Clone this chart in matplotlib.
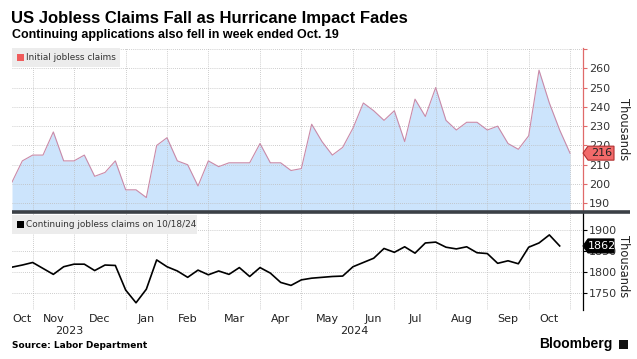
import matplotlib
matplotlib.use('Agg')
import matplotlib.pyplot as plt
import matplotlib.dates as mdates
import matplotlib.transforms as mtransforms
from matplotlib.patches import Rectangle, Polygon
from matplotlib.lines import Line2D
import pandas as pd

# ---------------- data ----------------
week_dates = pd.date_range('2023-10-13', periods=55, freq='7D')  # weekly (Friday-dated)

initial_claims = [201, 212, 215, 215, 227, 212, 212, 215, 204, 206,
                  212, 197, 197, 193, 220, 224, 212, 210, 199, 212,
                  209, 211, 211, 211, 221, 211, 211, 207, 208, 231,
                  222, 215, 219, 229, 242, 238, 233, 238, 222, 244,
                  235, 250, 233, 228, 232, 232, 228, 230, 221, 218,
                  225, 259, 242, 228, 216]

continuing_claims = [1812, 1817, 1823, 1809, 1795, 1813, 1819, 1819, 1804, 1817,
                     1816, 1758, 1728, 1760, 1829, 1813, 1803, 1788, 1805, 1794,
                     1803, 1795, 1811, 1790, 1811, 1798, 1776, 1769, 1782, 1786,
                     1788, 1790, 1791, 1813, 1823, 1833, 1856, 1847, 1860, 1845,
                     1869, 1871, 1859, 1855, 1860, 1846, 1844, 1821, 1827, 1820,
                     1859, 1869, 1888, 1862]

initial_ticks = [190, 200, 210, 220, 230, 240, 250, 260, 270]
continuing_ticks = [1750, 1800, 1850, 1900]

title = 'US Jobless Claims Fall as Hurricane Impact Fades'
subtitle = 'Continuing applications also fell in week ended Oct. 19'
initial_label = 'Initial jobless claims'
continuing_label = 'Continuing jobless claims on 10/18/24'
source = 'Source: Labor Department'

# ---------------- layout helpers ----------------
W, H = 637, 359
fig = plt.figure(figsize=(W / 100, H / 100), dpi=100)
fig.patch.set_facecolor('white')

def fx(px):
    return px / W

def fy(py):
    return 1 - py / H

L, R = 12, 583
ax1 = fig.add_axes([fx(L), fy(212), fx(R) - fx(L), fy(48) - fy(212)])
ax2 = fig.add_axes([fx(L), fy(310), fx(R) - fx(L), fy(212) - fy(310)])

x0 = week_dates[0]
x1 = week_dates[-1] + pd.Timedelta(days=8.8)

grid_kw = dict(color='#bdbdbd', lw=0.6, ls=(0, (1, 1.5)))

# month boundaries: last weekly point of each month
s = pd.Series(week_dates, index=week_dates)
month_ends = list(s.groupby([week_dates.year, week_dates.month]).max())
bounds = [week_dates[0]] + month_ends
centers = [bounds[i] + (bounds[i + 1] - bounds[i]) / 2 for i in range(len(bounds) - 1)]
labels = [d.strftime('%b') for d in month_ends]

# ---------------- top panel ----------------
y1lo, y1hi = 185.5, 270.5
ax1.fill_between(week_dates, initial_claims, y1lo, color='#cce4fc', lw=0, zorder=1)
ax1.set_xlim(x0, x1)
ax1.set_ylim(y1lo, y1hi)
ax1.yaxis.tick_right()
ax1.set_yticks(initial_ticks)
ax1.set_yticklabels([str(t) if t != 270 else '' for t in initial_ticks])
for sp in ['left', 'top', 'bottom']:
    ax1.spines[sp].set_visible(False)
ax1.spines['right'].set_color('#e06a6a')
ax1.spines['right'].set_linewidth(0.9)
ax1.tick_params(axis='y', direction='out', length=3, width=0.8, color='#e06a6a',
                labelcolor='#333333', labelsize=8, pad=1.5)
ax1.set_xticks(month_ends)
ax1.tick_params(axis='x', length=0, labelbottom=False)
ax1.set_axisbelow(False)
ax1.grid(True, axis='both', zorder=2, **grid_kw)
for gl in ax1.get_xgridlines() + ax1.get_ygridlines():
    gl.set_zorder(2)
ax1.plot(week_dates, initial_claims, color='#c98aa8', lw=0.8, zorder=3)

# ---------------- bottom panel ----------------
y2lo, y2hi = 1711, 1942
ax2.plot(week_dates[:len(continuing_claims)], continuing_claims, color='black', lw=1.2, zorder=3)
ax2.set_xlim(x0, x1)
ax2.set_ylim(y2lo, y2hi)
ax2.yaxis.tick_right()
ax2.set_yticks(continuing_ticks)
for sp in ['left', 'top', 'bottom']:
    ax2.spines[sp].set_visible(False)
ax2.spines['right'].set_color('black')
ax2.spines['right'].set_linewidth(0.9)
ax2.tick_params(axis='y', direction='out', length=3, width=0.8, color='black',
                labelcolor='#333333', labelsize=8, pad=1.5)
ax2.set_xticks(month_ends)
ax2.set_xticklabels([''] * len(month_ends))
ax2.tick_params(axis='x', which='major', length=0)
ax2.set_xticks(centers, minor=True)
ax2.set_xticklabels(labels, minor=True)
ax2.tick_params(axis='x', which='minor', length=0, labelsize=8, labelcolor='#222222', pad=3)
ax2.grid(True, axis='both', which='major', **grid_kw)
ax2.set_axisbelow(True)

# year labels
trans = mtransforms.blended_transform_factory(ax2.transData, ax2.transAxes)
yr_bounds = [week_dates[0], pd.Timestamp('2023-12-29'), x1]
for i, yr in enumerate(['2023', '2024']):
    c = yr_bounds[i] + (yr_bounds[i + 1] - yr_bounds[i]) / 2
    ax2.text(mdates.date2num(c), -0.215, yr, transform=trans, ha='center', va='center',
             fontsize=8, color='#222222')

# separator
fig.add_artist(Line2D([fx(12), fx(630)], [fy(212), fy(212)], color='#3b4046', lw=2.6,
                      solid_capstyle='butt'))

# legend boxes
def legend_box(x0p, x1p, y0p, y1p, color, text, size):
    fig.add_artist(Rectangle((fx(x0p), fy(y1p)), fx(x1p) - fx(x0p), fy(y0p) - fy(y1p),
                             transform=fig.transFigure, facecolor='#ececec', edgecolor='none'))
    yc = (y0p + y1p) / 2
    fig.add_artist(Rectangle((fx(17), fy(yc + 3.5)), fx(7), fy(0) - fy(7),
                             transform=fig.transFigure, facecolor=color, edgecolor='none'))
    fig.text(fx(26), fy(yc), text, ha='left', va='center', fontsize=size, color='#333333')

legend_box(12, 120, 48, 67, '#f05c5c', initial_label, 6.4)
legend_box(12, 197, 215, 234, 'black', continuing_label, 6.4)

# value tags
fig.canvas.draw()
def value_tag(ax, value, face, edge, tcolor):
    ypix = ax.transData.transform((mdates.date2num(x0), value))[1]
    xl = ax.transAxes.transform((1, 0))[0]
    h = 7
    pts = [(xl, ypix), (xl + 5, ypix + h), (xl + 31, ypix + h), (xl + 31, ypix - h), (xl + 5, ypix - h)]
    fig.add_artist(Polygon(pts, closed=True, transform=None, facecolor=face, edgecolor=edge, lw=0.8,
                           zorder=10))
    fig.text((xl + 18.5) / W, ypix / H, str(value), ha='center', va='center', fontsize=8,
             color=tcolor, zorder=11)

value_tag(ax1, initial_claims[-1], '#f26a6a', '#b03030', '#222222')
value_tag(ax2, continuing_claims[-1], 'black', 'black', 'white')

# Thousands labels
fig.text(fx(623), fy(129), 'Thousands', rotation=-90, ha='center', va='center', fontsize=8.3,
         color='#222222')
fig.text(fx(623), fy(266), 'Thousands', rotation=-90, ha='center', va='center', fontsize=8.3,
         color='#222222')

# titles
fig.text(fx(11), fy(19), title, ha='left', va='center', fontsize=12, fontweight='bold',
         family=['Liberation Sans', 'DejaVu Sans'], color='black')
fig.text(fx(12), fy(35), subtitle, ha='left', va='center', fontsize=9, fontweight='bold',
         family=['Liberation Sans', 'DejaVu Sans'], color='black')

# footer
fig.text(fx(12), fy(345), source, ha='left', va='center', fontsize=6.5, fontweight='bold',
         color='black')
fig.text(fx(613), fy(344), 'Bloomberg', ha='right', va='center', fontsize=10, fontweight='bold',
         family=['Liberation Sans', 'DejaVu Sans'], color='black')
fig.add_artist(Rectangle((fx(619), fy(348.5)), fx(8.5), fy(0) - fy(9), transform=fig.transFigure,
                         facecolor='#111111', edgecolor='none'))

fig.savefig('out.png', dpi=100)
